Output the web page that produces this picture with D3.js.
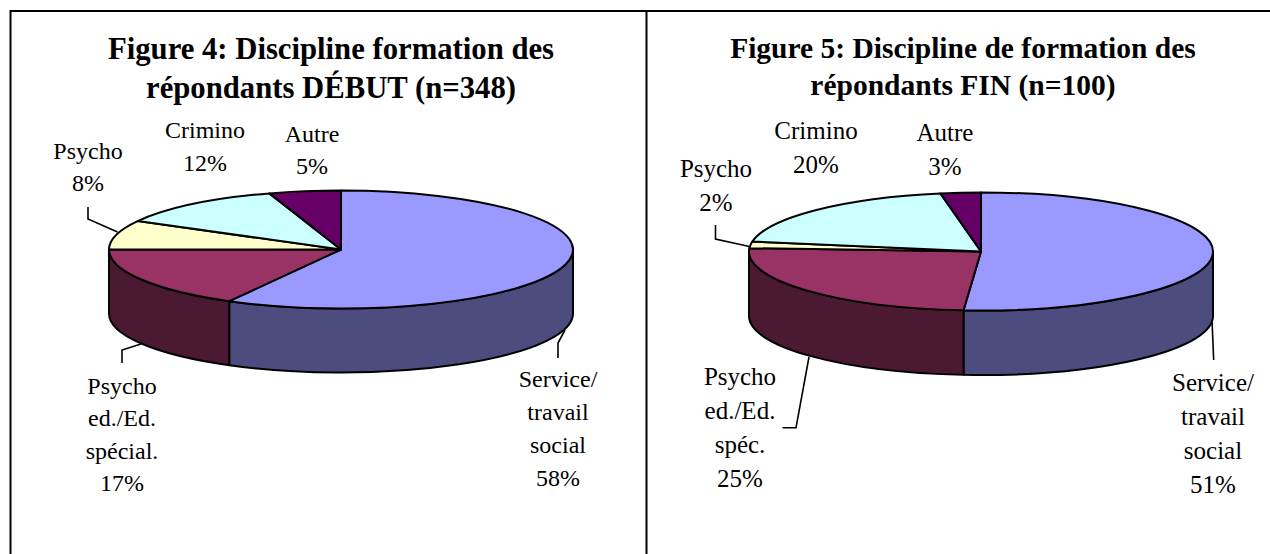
<!DOCTYPE html>
<html>
<head>
<meta charset="utf-8">
<script src="https://cdn.jsdelivr.net/npm/d3@7/dist/d3.min.js"></script>
<style>
  body { margin: 0; background: #fff; }
  svg { display: block; }
  text { font-family: "Liberation Serif", serif; fill: #000; text-anchor: middle; }
</style>
</head>
<body>
<svg id="chart" width="1270" height="554"></svg>
<script>
const CATEGORIES = ["Service", "PsychoEd", "Psycho", "Crimino", "Autre"];
const TOP_COLORS = ["#9999FF", "#993366", "#FFFFCC", "#CCFFFF", "#660066"];
const SIDE_COLORS = ["#4C4C7F", "#4C1933", "#7F7F66", "#667F7F", "#330033"];

// slice sizes (the printed labels are rounded)
const VALUES_DEBUT = [58, 17, 8, 12, 5];
const VALUES_FIN = [51.2, 24.7, 1.8, 19.5, 2.8];

const LABELS_DEBUT = ["58%", "17%", "8%", "12%", "5%"];
const LABELS_FIN = ["51%", "25%", "2%", "20%", "3%"];

const NAMES_DEBUT = [["Service/", "travail", "social"], ["Psycho", "ed./Ed.", "spécial."], ["Psycho"], ["Crimino"], ["Autre"]];
const NAMES_FIN = [["Service/", "travail", "social"], ["Psycho", "ed./Ed.", "spéc."], ["Psycho"], ["Crimino"], ["Autre"]];

const TITLE_DEBUT = ["Figure 4: Discipline formation des", "répondants DÉBUT (n=348)"];
const TITLE_FIN = ["Figure 5: Discipline de formation des", "répondants FIN (n=100)"];

const svg = d3.select("#chart");

// frame
svg.append("path")
  .attr("d", "M10.5,554V11H1270M646.5,11V554")
  .attr("fill", "none")
  .attr("stroke", "#000")
  .attr("stroke-width", 2);

function drawPie(opts) {
  const { cx, cy, rx, ry, depth } = opts;
  const g = svg.append("g");

  const arcs = d3.pie().sort(null)(opts.values);
  const px = (a) => cx + rx * Math.sin(a);
  const py = (a) => cy - ry * Math.cos(a);

  // side wall, only the front half of the ellipse shows
  const sidePath = (d) => {
    const a0 = Math.max(d.startAngle, Math.PI / 2);
    const a1 = Math.min(d.endAngle, (3 * Math.PI) / 2);
    if (a1 <= a0) return null;
    return `M${px(a0)},${py(a0)}A${rx},${ry} 0 0 1 ${px(a1)},${py(a1)}` +
      `V${py(a1) + depth}A${rx},${ry} 0 0 0 ${px(a0)},${py(a0) + depth}Z`;
  };

  g.selectAll("path.side")
    .data(arcs.filter((d) => sidePath(d)))
    .enter()
    .append("path")
    .attr("class", "side")
    .attr("d", sidePath)
    .attr("fill", (d) => SIDE_COLORS[d.index])
    .attr("stroke", "#000")
    .attr("stroke-width", 2)
    .attr("stroke-linejoin", "round");

  const arcGen = d3.arc().innerRadius(0).outerRadius(rx);
  g.append("g")
    .attr("transform", `translate(${cx},${cy}) scale(1,${ry / rx})`)
    .selectAll("path")
    .data(arcs)
    .enter()
    .append("path")
    .attr("d", arcGen)
    .attr("fill", (d) => TOP_COLORS[d.index])
    .attr("stroke", "#000")
    .attr("stroke-width", 2)
    .attr("stroke-linejoin", "round")
    .attr("vector-effect", "non-scaling-stroke");

  // leader lines
  g.selectAll("path.leader")
    .data(opts.leaders)
    .enter()
    .append("path")
    .attr("class", "leader")
    .attr("d", d3.line())
    .attr("fill", "none")
    .attr("stroke", "#000")
    .attr("stroke-width", 1.6);

  // title
  svg.append("g")
    .selectAll("text")
    .data(opts.title)
    .enter()
    .append("text")
    .attr("x", opts.titleX)
    .attr("y", (d, i) => opts.titleY[i])
    .attr("font-size", opts.titleSize)
    .attr("font-weight", "bold")
    .text((d) => d);

  // data labels
  CATEGORIES.forEach((cat, i) => {
    const pos = opts.labelPos[i];
    const lines = opts.names[i].concat(opts.labels[i]);
    svg.append("g")
      .selectAll("text")
      .data(lines)
      .enter()
      .append("text")
      .attr("x", pos.x)
      .attr("y", (d, j) => pos.y + j * pos.dy)
      .attr("font-size", opts.labelSize)
      .text((d) => d);
  });
}

drawPie({
  cx: 341, cy: 249.5, rx: 232, ry: 59, depth: 64,
  values: VALUES_DEBUT, labels: LABELS_DEBUT, names: NAMES_DEBUT,
  title: TITLE_DEBUT, titleX: 331, titleY: [59, 98], titleSize: 30.7,
  labelSize: 24,
  labelPos: [
    { x: 558, y: 387, dy: 33 },
    { x: 122, y: 394, dy: 32.3 },
    { x: 88, y: 159, dy: 32 },
    { x: 205, y: 138, dy: 33 },
    { x: 312, y: 141.5, dy: 32 },
  ],
  leaders: [
    [[88, 207], [88, 219], [117.5, 232]],
    [[122, 363], [122, 350], [141, 344]],
    [[558, 358], [558, 343], [565, 330]],
  ],
});

drawPie({
  cx: 981, cy: 251.5, rx: 232, ry: 59, depth: 64.5,
  values: VALUES_FIN, labels: LABELS_FIN, names: NAMES_FIN,
  title: TITLE_FIN, titleX: 963, titleY: [58, 95], titleSize: 29.5,
  labelSize: 25,
  labelPos: [
    { x: 1213, y: 391, dy: 34 },
    { x: 740, y: 385, dy: 34 },
    { x: 716, y: 177, dy: 34 },
    { x: 816, y: 139, dy: 34 },
    { x: 945, y: 141, dy: 34 },
  ],
  leaders: [
    [[715.5, 225], [715.5, 239], [750.5, 246.7]],
    [[782.6, 427.7], [796, 427.7], [809, 357]],
    [[1213.7, 360], [1212, 320]],
  ],
});
</script>
</body>
</html>
